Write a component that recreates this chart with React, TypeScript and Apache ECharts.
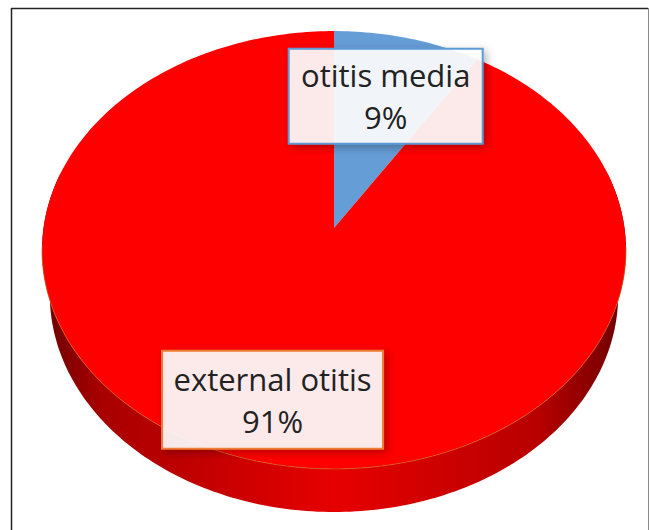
import { useEffect, useRef } from 'react';
import * as echarts from 'echarts';

// ---- data ----
const categories = ['otitis media', 'external otitis'];
const values = [9, 91];

// ---- styles ----
const sliceColors = ['#659DD6', '#FF0000'];
const labelBorderColors = ['#5B9BD5', '#ED7D31'];
const labelRadius = [0.68, 0.76];
const labelOffset = [
  [0, 1],
  [5, 1],
];
const labelBoxSize = [
  [194, 95],
  [221, 98],
];

// perspective projection of a tilted disc
const CX = 334;
const CY = 228;
const F = 1925;
const D = 6.627;
const COS_A = 0.666;
const SIN_A = 0.746;
const H = 0.24;

function project(X: number, Y: number, Z: number): [number, number] {
  const yc = Y * COS_A + Z * SIN_A;
  const depth = D + Z * COS_A - Y * SIN_A;
  return [CX + (F * X) / depth, CY - (F * yc) / depth];
}
function rim(deg: number, Y: number, r = 1): [number, number] {
  const t = (deg * Math.PI) / 180;
  return project(r * Math.sin(t), Y, r * Math.cos(t));
}
function arcPoints(a0: number, a1: number, Y: number): [number, number][] {
  const pts: [number, number][] = [];
  const n = Math.max(2, Math.ceil(Math.abs(a1 - a0)));
  for (let k = 0; k <= n; k++) pts.push(rim(a0 + ((a1 - a0) * k) / n, Y));
  return pts;
}
function shade(hex: string, f: number): string {
  const n = parseInt(hex.slice(1), 16);
  const r = Math.round(((n >> 16) & 255) * f);
  const g = Math.round(((n >> 8) & 255) * f);
  const b = Math.round((n & 255) * f);
  return `rgb(${r},${g},${b})`;
}

export default function App() {
  const ref = useRef<HTMLDivElement>(null);
  useEffect(() => {
    if (!ref.current) return;
    const chart = echarts.init(ref.current, null, { renderer: 'svg' });
    const total = values.reduce((a, b) => a + b, 0);
    const starts: number[] = [];
    let acc = 0;
    values.forEach((v) => {
      starts.push(acc);
      acc += v;
    });

    const renderItem = (params: any, api: any) => {
      const i = params.dataIndex;
      const v = api.value(0);
      const a0 = (starts[i] / total) * 360;
      const a1 = ((starts[i] + v) / total) * 360;
      const color = sliceColors[i % sliceColors.length];
      const children: any[] = [];

      // side (front rim) part
      const s0 = Math.max(a0, 75);
      const s1 = Math.min(a1, 285);
      if (s1 > s0) {
        const topArc = arcPoints(s0, s1, 0);
        const botArc = arcPoints(s0, s1, -H).reverse();
        children.push({
          type: 'polygon',
          z2: 1,
          shape: { points: topArc.concat(botArc) },
          style: {
            fill: new echarts.graphic.LinearGradient(0, 0, 1, 0, [
              { offset: 0, color: shade(color, 0.42) },
              { offset: 0.1, color: shade(color, 0.66) },
              { offset: 0.5, color: shade(color, 0.9) },
              { offset: 0.85, color: shade(color, 0.72) },
              { offset: 1, color: shade(color, 0.42) },
            ]),
          },
        });
        children.push({
          type: 'polyline',
          z2: 12,
          shape: { points: arcPoints(Math.max(a0, 95), Math.min(a1, 265), 0) },
          style: { stroke: 'rgba(205,95,25,0.75)', lineWidth: 1, fill: null },
        });
      }

      // top face
      const top = [project(0, 0, 0) as [number, number]].concat(arcPoints(a0, a1, 0));
      children.push({
        type: 'polygon',
        z2: 10,
        shape: { points: top },
        style: { fill: color },
      });

      // label
      const mid = (a0 + a1) / 2;
      const [rx, ry] = rim(mid, 0, labelRadius[i]);
      const lx = rx + labelOffset[i][0];
      const ly = ry + labelOffset[i][1];
      const [bw, bh] = labelBoxSize[i];
      const pct = Math.round((v / total) * 100);
      children.push({
        type: 'rect',
        z2: 20,
        shape: { x: lx - bw / 2, y: ly - bh / 2, width: bw, height: bh },
        style: {
          fill: 'rgba(255,255,255,0.9)',
          stroke: labelBorderColors[i],
          lineWidth: 2,
          shadowBlur: 8,
          shadowOffsetX: 3,
          shadowOffsetY: 3,
          shadowColor: 'rgba(0,0,0,0.3)',
        },
      });
      children.push({
        type: 'text',
        z2: 21,
        x: lx,
        y: ly,
        style: {
          text: `${categories[i]}\n${pct}%`,
          align: 'center',
          verticalAlign: 'middle',
          fontSize: 31,
          fontFamily: '"Open Sans"',
          lineHeight: 42,
          fill: '#222222',
        },
      });
      return { type: 'group', children };
    };

    chart.setOption({
      animation: false,
      backgroundColor: '#ffffff',
      graphic: [
        { type: 'line', shape: { x1: 11.5, y1: 8, x2: 11.5, y2: 530 }, style: { stroke: '#222', lineWidth: 1.5 } },
        { type: 'line', shape: { x1: 11, y1: 8.5, x2: 648, y2: 8.5 }, style: { stroke: '#222', lineWidth: 1.5 } },
        { type: 'line', shape: { x1: 648.5, y1: 8, x2: 648.5, y2: 530 }, style: { stroke: '#8a8a8a', lineWidth: 1 } },
      ],
      series: [
        {
          type: 'custom',
          coordinateSystem: 'none',
          silent: true,
          renderItem,
          data: values.map((v, i) => ({ value: [v], name: categories[i] })),
        },
      ],
    });
    return () => chart.dispose();
  }, []);
  return (
    <div
      ref={ref}
      style={{ position: 'absolute', left: 0, top: 0, width: 649, height: 530 }}
    />
  );
}
